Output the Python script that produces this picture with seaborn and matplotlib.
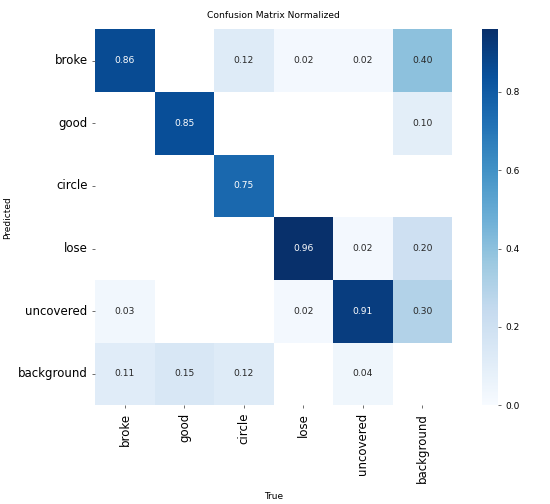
import numpy as np
import pandas as pd
import matplotlib
matplotlib.use("Agg")
import matplotlib.pyplot as plt
import seaborn as sns

true_labels = ["broke", "good", "circle", "lose", "uncovered", "background"]
pred_labels = ["broke", "good", "circle", "lose", "uncovered", "background"]

nan = np.nan
row_broke = [0.86, nan, 0.12, 0.02, 0.02, 0.40]
row_good = [nan, 0.85, nan, nan, nan, 0.10]
row_circle = [nan, nan, 0.75, nan, nan, nan]
row_lose = [nan, nan, nan, 0.96, 0.02, 0.20]
row_uncovered = [0.03, nan, nan, 0.02, 0.91, 0.30]
row_background = [0.11, 0.15, 0.12, nan, 0.04, nan]

matrix = pd.DataFrame([row_broke, row_good, row_circle, row_lose, row_uncovered, row_background],
                      index=pred_labels, columns=true_labels)

fig = plt.figure(figsize=(5.5, 5.04), dpi=100)
ax = fig.add_axes([0.173, 0.196, 0.649, 0.746])
cax = fig.add_axes([0.876, 0.196, 0.029, 0.746])

sns.heatmap(matrix, ax=ax, cbar_ax=cax, cmap="Blues", annot=True, fmt=".2f",
            annot_kws={"size": 6.6}, vmin=0.0, square=False,
            xticklabels=true_labels, yticklabels=pred_labels)
ax.set_facecolor((1, 1, 1))
ax.tick_params(axis="both", labelsize=8.5, length=2, width=0.6, color="#555555")
ax.set_xticklabels(true_labels, rotation=90)
ax.set_yticklabels(pred_labels, rotation=0)
ax.set_xlabel("True", fontsize=6.5, labelpad=7)
ax.set_ylabel("Predicted", fontsize=6.5)
ax.set_title("Confusion Matrix Normalized", fontsize=6.6, pad=8)
cax.tick_params(labelsize=6.5, length=2, width=0.6, color="#555555")
cax.set_yticks([0.0, 0.2, 0.4, 0.6, 0.8])

fig.savefig("out.png", dpi=100)
